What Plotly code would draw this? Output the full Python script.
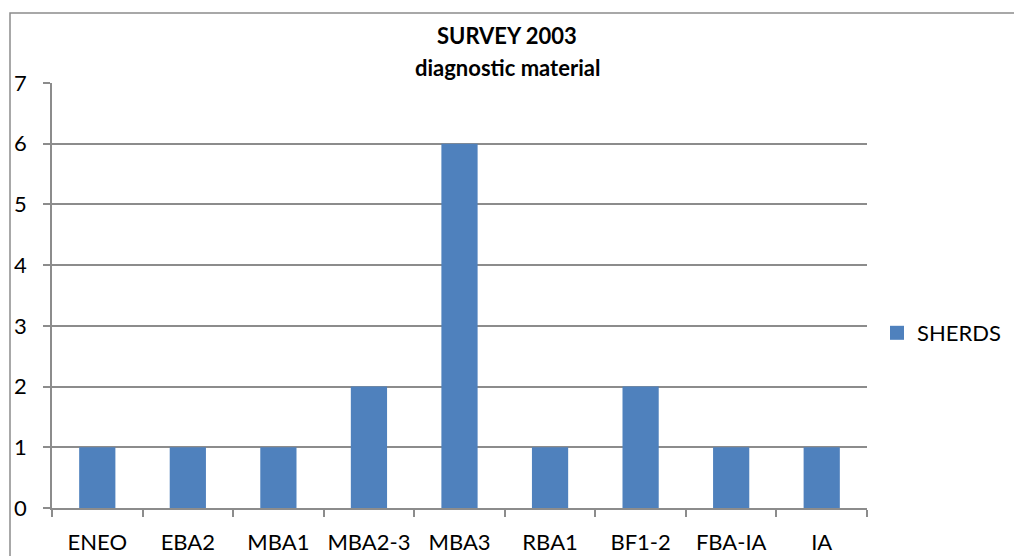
import plotly.graph_objects as go

# Diagnostic sherds per period, survey 2003
periods = ["ENEO", "EBA2", "MBA1", "MBA2-3", "MBA3", "RBA1", "BF1-2", "FBA-IA", "IA"]
sherds = [1, 1, 1, 2, 6, 1, 2, 1, 1]
y_ticks = [0, 1, 2, 3, 4, 5, 6, 7]
series_name = "SHERDS"

W, H = 1014, 556
left, right, top, bottom = 52, 867, 83, 508
grid = "#8c8c8c"
bar_color = "#4F81BD"
font = "Lato, 'Open Sans', sans-serif"

fig = go.Figure()
fig.add_trace(go.Bar(
    x=periods, y=sherds, name=series_name,
    marker=dict(color=bar_color, line=dict(width=0)),
    width=0.4, showlegend=False,
))
# legend key drawn as a larger square swatch
fig.add_trace(go.Scatter(
    x=[None], y=[None], name=series_name, mode="markers",
    marker=dict(symbol="square", size=14, color=bar_color),
))

fig.update_layout(
    width=W, height=H,
    margin=dict(l=0, r=0, t=0, b=0),
    paper_bgcolor="white", plot_bgcolor="white",
    font=dict(family=font, size=22, color="black"),
    showlegend=True,
    legend=dict(x=877 / W, y=1 - 333 / H, xanchor="left", yanchor="middle",
                font=dict(size=22), bgcolor="rgba(0,0,0,0)", itemwidth=30),
    xaxis=dict(
        domain=[left / W, right / W], automargin=False, tickangle=0,
        showline=True, linecolor=grid, linewidth=1.5,
        ticks="outside", tickson="boundaries", ticklen=7, tickcolor=grid,
        tickwidth=1.5, ticklabelstandoff=14, showgrid=False,
    ),
    yaxis=dict(
        domain=[1 - bottom / H, 1 - top / H], automargin=False,
        range=[0, 7], tickvals=y_ticks,
        showline=True, linecolor=grid, linewidth=1.5,
        showgrid=True, gridcolor=grid, gridwidth=1.5,
        ticks="outside", ticklen=7, tickcolor=grid, tickwidth=1.5,
        ticklabelstandoff=12, zeroline=False,
    ),
    annotations=[
        dict(text="<b>SURVEY 2003</b>", x=0.5, y=1 - 35 / H, xref="paper", yref="paper",
             xanchor="center", yanchor="middle", showarrow=False, font=dict(size=22)),
        dict(text="<b>diagnostic material</b>", x=0.5, y=1 - 67 / H, xref="paper", yref="paper",
             xanchor="center", yanchor="middle", showarrow=False, font=dict(size=22)),
    ],
    shapes=[
        dict(type="rect", xref="paper", yref="paper",
             x0=10 / W, x1=1.02, y0=-0.02, y1=1 - 13 / H,
             line=dict(color=grid, width=1.5), layer="below"),
    ],
)

fig.write_html("out.html")
